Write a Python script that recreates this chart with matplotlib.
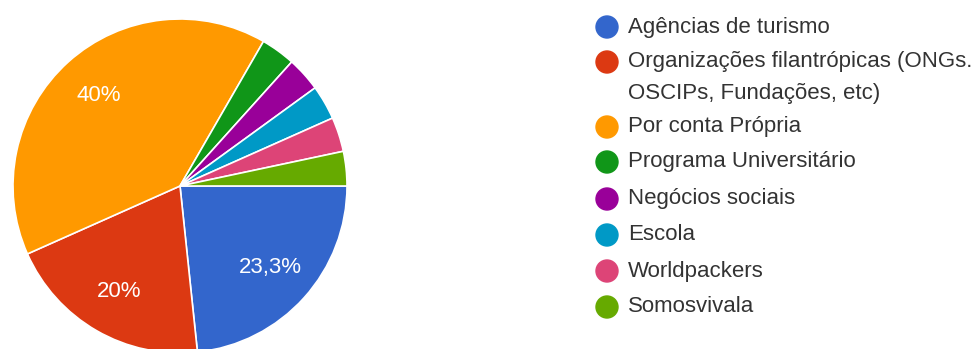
import matplotlib
matplotlib.use("Agg")
import matplotlib.pyplot as plt
from matplotlib.patches import Circle

# Survey answers: how the volunteer trip was organised (30 respondents)
categories = [
    "Agências de turismo",
    "Organizações filantrópicas (ONGs.\nOSCIPs, Fundações, etc)",
    "Por conta Própria",
    "Programa Universitário",
    "Negócios sociais",
    "Escola",
    "Worldpackers",
    "Somosvivala",
]
responses = [7, 6, 12, 1, 1, 1, 1, 1]
colors = ["#3366cc", "#dc3912", "#ff9900", "#109618",
          "#990099", "#0099c6", "#dd4477", "#66aa00"]

W, H = 978, 349
fig = plt.figure(figsize=(W / 100, H / 100), dpi=100)
ax = fig.add_axes([0, 0, 1, 1])

FONT = "Liberation Sans"


def pct_label(p):
    if p < 5:
        return ""
    txt = f"{p:.1f}".rstrip("0").rstrip(".").replace(".", ",")
    return txt + "%"


ax.pie(
    responses,
    colors=colors,
    startangle=0,
    counterclock=False,
    center=(180, H - 186),
    radius=167,
    autopct=pct_label,
    pctdistance=0.73,
    wedgeprops=dict(edgecolor="white", linewidth=1.2),
    textprops=dict(color="white", fontsize=16, family=FONT),
    frame=True,
)
ax.set_xlim(0, W)
ax.set_ylim(0, H)
ax.set_aspect("equal")
ax.axis("off")

# Legend: coloured dots with labels, wrapped labels continue on the next row
row_y = [27, 62, 127, 162, 199, 235, 271, 307]
line_step = 32
for label, color, y in zip(categories, colors, row_y):
    ax.add_patch(Circle((607, H - y), 11, color=color, zorder=3))
    for k, line in enumerate(label.split("\n")):
        ax.text(628, H - y - k * line_step, line, ha="left", va="center",
                fontsize=16, color="#333333", family=FONT)

fig.savefig("out.png", dpi=100)
